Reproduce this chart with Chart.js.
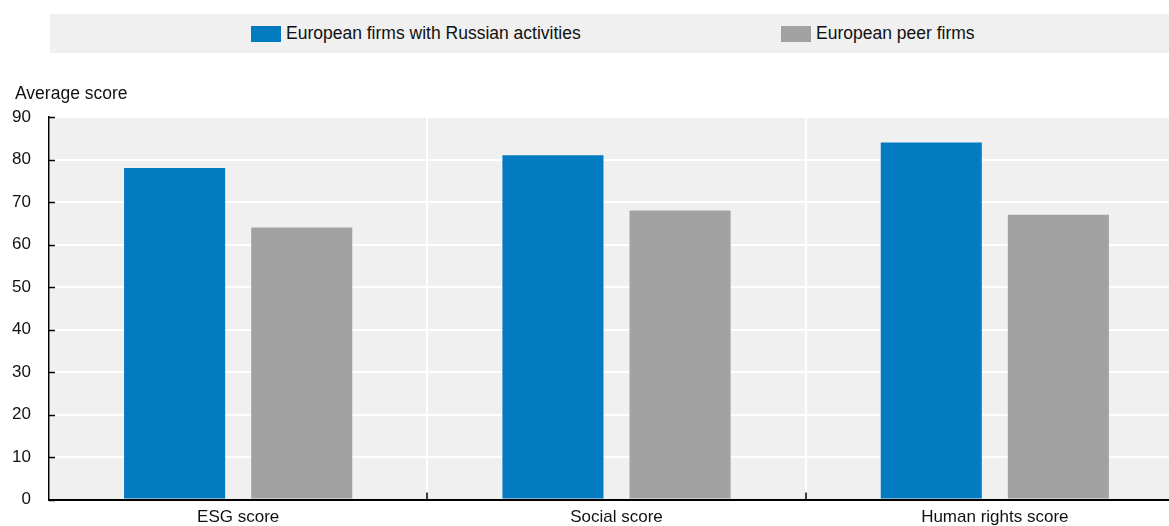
<!DOCTYPE html>
<html>
<head>
<meta charset="utf-8">
<script src="https://cdn.jsdelivr.net/npm/chart.js@4/dist/chart.umd.min.js"></script>
<style>
  html, body { margin: 0; padding: 0; background: #fff; overflow: hidden; }
  #wrap { position: relative; width: 1169px; height: 526px; overflow: hidden; }
  #chartBox { position: absolute; left: 0; top: 0; width: 1184px; height: 536px; }
  #legend {
    position: absolute; left: 50px; top: 14px; width: 1119px; height: 39px; z-index: 1;
    background: #f0f0f0; font-family: "Liberation Sans", Arial, sans-serif; font-size: 17.5px; color: #111;
  }
  .item { position: absolute; top: 0; height: 39px; display: flex; align-items: center; }
  .swatch { width: 30px; height: 16px; margin-right: 5px; }
</style>
</head>
<body>
<div id="wrap">
  <div id="chartBox"><canvas id="myChart"></canvas></div>
  <div id="legend"></div>
</div>
<script>
// data block
const categories = ['ESG score', 'Social score', 'Human rights score'];
const russianFirms = [78, 81, 84];
const peerFirms = [64, 68, 67];
const yTicks = [0, 10, 20, 30, 40, 50, 60, 70, 80, 90];

const seriesNames = ['European firms with Russian activities', 'European peer firms'];
const seriesColors = ['#037bc1', '#a2a2a2'];

const data = {
    labels: categories,
    datasets: [
        {
            label: seriesNames[0],
            data: russianFirms,
            backgroundColor: seriesColors[0],
            categoryPercentage: 0.672,
            barPercentage: 0.795
        },
        {
            label: seriesNames[1],
            data: peerFirms,
            backgroundColor: seriesColors[1],
            categoryPercentage: 0.672,
            barPercentage: 0.795
        }
    ]
};

// grey plot background + axis title
const plotBackground = {
    id: 'plotBackground',
    beforeDraw(chart) {
        const { ctx, chartArea: { top, bottom, left, right } } = chart;
        ctx.save();
        ctx.fillStyle = '#f0f0f0';
        ctx.fillRect(left, top, right - left, bottom - top);

        ctx.fillStyle = '#111';
        ctx.font = '17.5px "Liberation Sans", Arial, sans-serif';
        ctx.textBaseline = 'alphabetic';
        ctx.fillText('Average score', 15, 99);
        ctx.restore();
    }
};

// small tick marks pointing into the plot
const innerTicks = {
    id: 'innerTicks',
    afterDraw(chart) {
        const { ctx, chartArea: { bottom, left }, scales: { x, y } } = chart;
        ctx.save();
        ctx.strokeStyle = '#000';
        ctx.lineWidth = 1.5;
        ctx.beginPath();
        yTicks.forEach(v => {
            const py = Math.round(y.getPixelForValue(v)) + 0.5;
            ctx.moveTo(left, py);
            ctx.lineTo(left + 6, py);
        });
        for (let i = 0; i < categories.length - 1; i++) {
            const px = Math.round((x.getPixelForValue(i) + x.getPixelForValue(i + 1)) / 2);
            ctx.moveTo(px, bottom);
            ctx.lineTo(px, bottom - 7);
        }
        ctx.stroke();
        ctx.restore();
    }
};

const tickFont = { family: '"Liberation Sans", Arial, sans-serif', size: 17 };

// config block
const config = {
    type: 'bar',
    data: data,
    options: {
        responsive: true,
        maintainAspectRatio: false,
        animation: false,
        layout: { padding: { top: 117, left: 0, right: 0, bottom: 0 } },
        scales: {
            x: {
                grid: { offset: true, color: '#ffffff', lineWidth: 2, drawTicks: false },
                border: { color: '#000', width: 2 },
                ticks: { color: '#111', font: tickFont, padding: 8, maxRotation: 0 }
            },
            y: {
                min: 0,
                max: 90,
                afterBuildTicks: scale => {
                    scale.ticks = yTicks.map(v => ({ value: v }));
                },
                afterFit: scale => {
                    scale.width = 49;
                },
                grid: { color: '#ffffff', lineWidth: 2, drawTicks: false },
                border: { color: '#000', width: 1.5 },
                ticks: { color: '#111', font: tickFont, padding: 18 }
            }
        },
        plugins: {
            legend: { display: false },
            tooltip: { enabled: false }
        }
    },
    plugins: [plotBackground, innerTicks]
};

// init render block
const ctx = document.getElementById('myChart');
const myChart = new Chart(ctx, config);

// html legend from the datasets
const legendEl = document.getElementById('legend');
const legendLeft = [201, 731];
myChart.data.datasets.forEach((ds, i) => {
    const item = document.createElement('div');
    item.className = 'item';
    item.style.left = legendLeft[i] + 'px';
    const sw = document.createElement('span');
    sw.className = 'swatch';
    sw.style.background = ds.backgroundColor;
    const txt = document.createElement('span');
    txt.textContent = ds.label;
    item.appendChild(sw);
    item.appendChild(txt);
    legendEl.appendChild(item);
});
</script>
</body>
</html>
